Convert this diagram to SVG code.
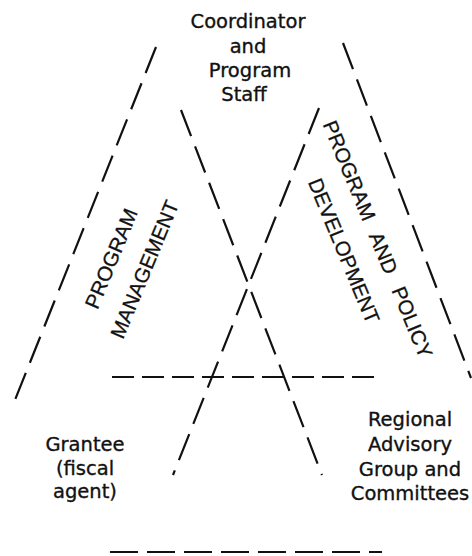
<svg xmlns="http://www.w3.org/2000/svg" width="472" height="556" viewBox="0 0 472 556">
<style>
.bg{fill:#fff}
.lbl{font-family:"DejaVu Sans","Liberation Sans",sans-serif;font-size:19.5px;fill:#111;stroke:#111;stroke-width:0.35;text-anchor:middle}
.rot{font-family:"Liberation Sans",Arial,sans-serif;font-size:20.5px;fill:#111;stroke:#111;stroke-width:0.3;text-anchor:middle}
.d{stroke:#111;stroke-width:2.2;fill:none}
.dg{stroke-dasharray:28 11}
.hm{stroke-dasharray:22 8}
.hb{stroke-dasharray:28 9}
</style>
<rect class="bg" x="0" y="0" width="472" height="556"/>
<g id="connectors">
<line class="d dg" x1="156" y1="47" x2="13" y2="405"/>
<line class="d dg" x1="181" y1="110" x2="322" y2="475"/>
<line class="d dg" x1="319" y1="108" x2="173" y2="475"/>
<line class="d dg" x1="343" y1="43" x2="471" y2="378"/>
<line class="d hm" x1="112" y1="377" x2="380" y2="377"/>
<line class="d hb" x1="110" y1="552" x2="382" y2="552"/>
</g>
<g id="coordinator">
<text class="lbl" x="248" y="28">Coordinator</text>
<text class="lbl" x="248" y="53">and</text>
<text class="lbl" x="250" y="77">Program</text>
<text class="lbl" x="244" y="101">Staff</text>
</g>
<g id="grantee">
<text class="lbl" x="85" y="451">Grantee</text>
<text class="lbl" x="85" y="475">(fiscal</text>
<text class="lbl" x="85" y="498">agent)</text>
</g>
<g id="regional">
<text class="lbl" x="410" y="426">Regional</text>
<text class="lbl" x="410" y="451">Advisory</text>
<text class="lbl" x="410" y="476">Group and</text>
<text class="lbl" x="410" y="500">Committees</text>
</g>
<g id="program-management">
<text class="rot" transform="translate(117.8 261.2) rotate(-67.5)">PROGRAM</text>
<text class="rot" transform="translate(151.1 272.1) rotate(-67.5)">MANAGEMENT</text>
</g>
<g id="program-policy-development">
<text class="rot" transform="translate(371.2 242) rotate(67.5)">PROGRAM <tspan dx="10">AND</tspan> <tspan dx="10">POLICY</tspan></text>
<text class="rot" transform="translate(337.3 253.5) rotate(67.5)">DEVELOPMENT</text>
</g>
</svg>
